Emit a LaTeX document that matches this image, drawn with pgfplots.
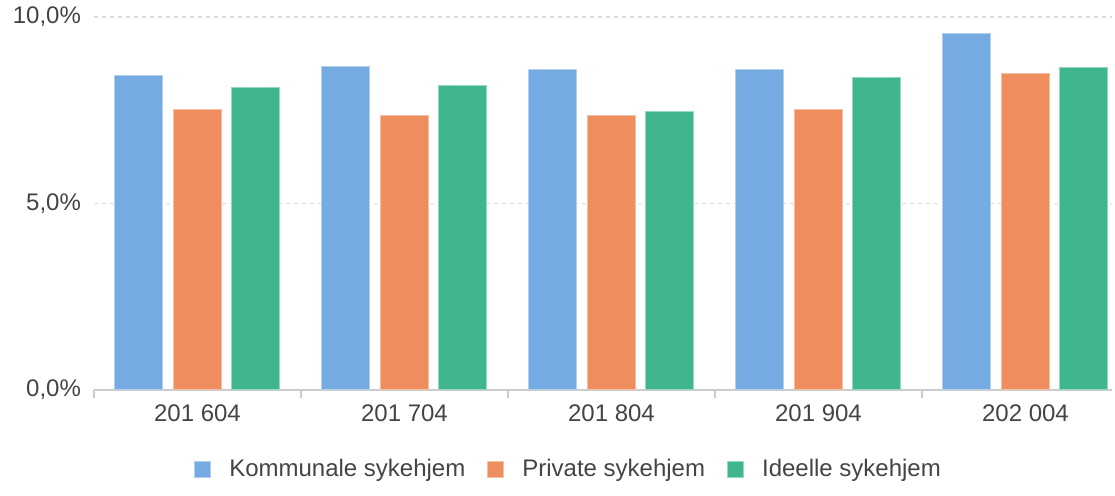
\documentclass[border=0pt]{standalone}
\usepackage{pgfplots}
\pgfplotsset{compat=1.18}
\usepackage{fontspec}
\setmainfont{Liberation Sans}
\definecolor{cblue}{RGB}{118,170,226}
\definecolor{corange}{RGB}{239,141,95}
\definecolor{cgreen}{RGB}{64,182,140}
\definecolor{txt}{RGB}{68,68,68}
\definecolor{axisgray}{RGB}{204,204,204}
\definecolor{gridgray}{RGB}{221,221,221}
\begin{document}
\begin{tikzpicture}[font=\fontsize{12pt}{14pt}\selectfont]
\useasboundingbox (-47pt,-53.2pt) rectangle (510.5pt,194.8pt);
\begin{axis}[
  scale only axis, width=509.2pt, height=186.3pt,
  ybar=5.25pt, bar width=24pt,
  xmin=-0.5, xmax=4.42, ymin=0, ymax=10,
  axis x line*=bottom, axis y line*=left,
  y axis line style={draw=none},
  x axis line style={draw=axisgray, line width=1pt, -},
  xtick={0,1,2,3,4},
  xticklabels={201 604,201 704,201 804,201 904,202 004},
  minor xtick={-0.5,0.5,1.5,2.5,3.5},
  major tick length=0pt, minor tick length=4pt,
  tick align=outside,
  minor tick style={draw=axisgray, line width=1pt},
  ytick={0,5,10},
  yticklabels={{0,0\%},{5,0\%},{10,0\%}},
  ymajorgrids,
  major grid style={draw=gridgray, dash pattern=on 2pt off 2pt, line width=0.75pt},
  yticklabel style={text=txt, xshift=-3pt},
  xticklabel style={text=txt, yshift=-4pt},
  legend style={at={(0.467,-0.214)}, anchor=center, draw=none, fill=none,
    legend columns=3, text=txt,
    /tikz/every odd column/.append style={column sep=7pt},
    /tikz/every even column/.append style={column sep=9pt}},
  legend image code/.code={\fill[#1] (0pt,-4pt) rectangle (8pt,4pt);},
]
\addplot[fill=cblue, draw=cblue!55!white, line width=0.5pt] coordinates {(0,8.44) (1,8.66) (2,8.60) (3,8.60) (4,9.57)};
\addplot[fill=corange, draw=corange!55!white, line width=0.5pt] coordinates {(0,7.52) (1,7.36) (2,7.36) (3,7.52) (4,8.49)};
\addplot[fill=cgreen, draw=cgreen!55!white, line width=0.5pt] coordinates {(0,8.11) (1,8.17) (2,7.47) (3,8.38) (4,8.65)};
\legend{Kommunale sykehjem, Private sykehjem, Ideelle sykehjem}
\end{axis}
\end{tikzpicture}
\end{document}
